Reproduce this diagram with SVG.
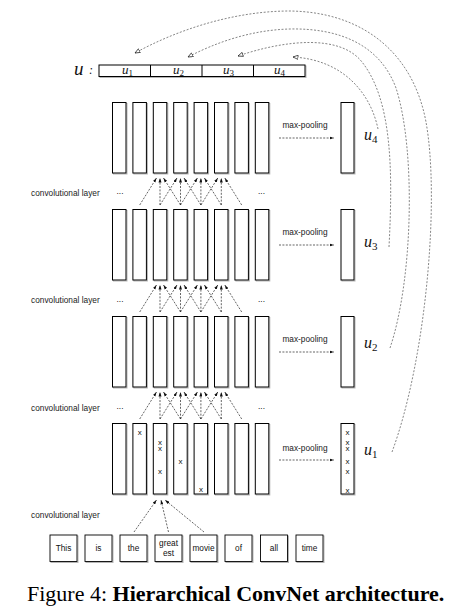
<svg xmlns="http://www.w3.org/2000/svg" width="460" height="613" viewBox="0 0 460 613">
<style>
.lbl{font-family:"Liberation Sans",Arial,sans-serif;font-size:8.3px;fill:#222}
.w{font-family:"Liberation Sans",Arial,sans-serif;font-size:8.3px;fill:#111;text-anchor:middle}
.x{font-family:"Liberation Sans",Arial,sans-serif;font-size:8px;fill:#111;text-anchor:middle}
.m{font-family:"Liberation Serif","Times New Roman",serif;font-style:italic;fill:#111}
.d{fill:none;stroke:#222;stroke-width:0.7;stroke-dasharray:2 1.4}
.c{fill:none;stroke:#333;stroke-width:0.6;stroke-dasharray:2 1.6}
.cap{font-family:"Liberation Serif","Times New Roman",serif;font-size:22px;fill:#000}
</style>
<defs>
<g id="col"><rect x="1" y="1" width="13.5" height="70.5" fill="none" stroke="#b5b5b5" stroke-width="1"/><rect x="0" y="0" width="13.5" height="70.5" fill="#fff" stroke="#000" stroke-width="1"/></g>
<g id="pcol"><rect x="1" y="1" width="13" height="70.5" fill="none" stroke="#b5b5b5" stroke-width="1"/><rect x="0" y="0" width="13" height="70.5" fill="#fff" stroke="#000" stroke-width="1"/></g>
<g id="wbox"><rect x="1" y="1" width="27" height="26.5" fill="none" stroke="#b5b5b5" stroke-width="1"/><rect x="0" y="0" width="27" height="26.5" fill="#fff" stroke="#000" stroke-width="0.9"/></g>
<marker id="ah" viewBox="0 0 6 4" refX="6" refY="2" markerWidth="4.5" markerHeight="3.2" markerUnits="userSpaceOnUse" orient="auto"><path d="M0,0 L6,2 L0,4 z" fill="#111"/></marker>
<marker id="oh" viewBox="0 0 7 6" refX="6.5" refY="3" markerWidth="6" markerHeight="5" markerUnits="userSpaceOnUse" orient="auto"><path d="M0.5,0.5 L6.5,3 L0.5,5.5 z" fill="#fff" stroke="#111" stroke-width="0.8"/></marker>
</defs>
<rect width="460" height="613" fill="#fff"/>

<!-- top vector u -->
<g id="uvec">
<text class="m" x="74" y="75" font-size="19">u</text>
<text class="m" x="89" y="74" font-size="12" font-style="normal">:</text>
<rect x="100" y="66" width="206" height="11.5" fill="none" stroke="#b5b5b5"/>
<rect x="99" y="65" width="206" height="11.5" fill="#fff" stroke="#000"/>
<line x1="150.5" y1="65" x2="150.5" y2="76.5" stroke="#000"/>
<line x1="202" y1="65" x2="202" y2="76.5" stroke="#000"/>
<line x1="253.5" y1="65" x2="253.5" y2="76.5" stroke="#000"/>
<text class="m" x="122" y="74" font-size="13">u<tspan font-size="9" font-style="normal" dy="2">1</tspan></text>
<text class="m" x="173" y="74" font-size="13">u<tspan font-size="9" font-style="normal" dy="2">2</tspan></text>
<text class="m" x="223" y="74" font-size="13">u<tspan font-size="9" font-style="normal" dy="2">3</tspan></text>
<text class="m" x="274" y="74" font-size="13">u<tspan font-size="9" font-style="normal" dy="2">4</tspan></text>
</g>

<!-- layer 1 (top) -->
<g id="L1c0"><use href="#col" x="112.5" y="102.5"/></g>
<g id="L1c1"><use href="#col" x="132.9" y="102.5"/></g>
<g id="L1c2"><use href="#col" x="153.3" y="102.5"/></g>
<g id="L1c3"><use href="#col" x="173.7" y="102.5"/></g>
<g id="L1c4"><use href="#col" x="194.1" y="102.5"/></g>
<g id="L1c5"><use href="#col" x="214.5" y="102.5"/></g>
<g id="L1c6"><use href="#col" x="234.9" y="102.5"/></g>
<g id="L1c7"><use href="#col" x="255.3" y="102.5"/></g>
<g id="P1"><use href="#pcol" x="341" y="102.5"/><text class="m" x="364" y="140" font-size="16">u<tspan font-size="11" font-style="normal" dy="3">4</tspan></text></g>

<!-- layer 2 -->
<g id="L2c0"><use href="#col" x="112.5" y="209.5"/></g>
<g id="L2c1"><use href="#col" x="132.9" y="209.5"/></g>
<g id="L2c2"><use href="#col" x="153.3" y="209.5"/></g>
<g id="L2c3"><use href="#col" x="173.7" y="209.5"/></g>
<g id="L2c4"><use href="#col" x="194.1" y="209.5"/></g>
<g id="L2c5"><use href="#col" x="214.5" y="209.5"/></g>
<g id="L2c6"><use href="#col" x="234.9" y="209.5"/></g>
<g id="L2c7"><use href="#col" x="255.3" y="209.5"/></g>
<g id="P2"><use href="#pcol" x="341" y="209.5"/><text class="m" x="364" y="247" font-size="16">u<tspan font-size="11" font-style="normal" dy="3">3</tspan></text></g>

<!-- layer 3 -->
<g id="L3c0"><use href="#col" x="112.5" y="316.5"/></g>
<g id="L3c1"><use href="#col" x="132.9" y="316.5"/></g>
<g id="L3c2"><use href="#col" x="153.3" y="316.5"/></g>
<g id="L3c3"><use href="#col" x="173.7" y="316.5"/></g>
<g id="L3c4"><use href="#col" x="194.1" y="316.5"/></g>
<g id="L3c5"><use href="#col" x="214.5" y="316.5"/></g>
<g id="L3c6"><use href="#col" x="234.9" y="316.5"/></g>
<g id="L3c7"><use href="#col" x="255.3" y="316.5"/></g>
<g id="P3"><use href="#pcol" x="341" y="316.5"/><text class="m" x="364" y="348" font-size="16">u<tspan font-size="11" font-style="normal" dy="3">2</tspan></text></g>

<!-- layer 4 (bottom) -->
<g id="L4c0"><use href="#col" x="112.5" y="423.5"/></g>
<g id="L4c1"><use href="#col" x="132.9" y="423.5"/><text class="x" x="139.7" y="434.5">x</text></g>
<g id="L4c2"><use href="#col" x="153.3" y="423.5"/><text class="x" x="160" y="444.5">x</text><text class="x" x="160" y="450.5">x</text><text class="x" x="160" y="474">x</text></g>
<g id="L4c3"><use href="#col" x="173.7" y="423.5"/><text class="x" x="180.5" y="463.5">x</text></g>
<g id="L4c4"><use href="#col" x="194.1" y="423.5"/><text class="x" x="200.9" y="492">x</text></g>
<g id="L4c5"><use href="#col" x="214.5" y="423.5"/></g>
<g id="L4c6"><use href="#col" x="234.9" y="423.5"/></g>
<g id="L4c7"><use href="#col" x="255.3" y="423.5"/></g>
<g id="P4"><use href="#pcol" x="341" y="423.5"/>
<text class="x" x="347.5" y="434.5">x</text><text class="x" x="347.5" y="444.5">x</text><text class="x" x="347.5" y="451">x</text><text class="x" x="347.5" y="463.5">x</text><text class="x" x="347.5" y="473.5">x</text><text class="x" x="347.5" y="492.5">x</text>
<text class="m" x="364" y="455" font-size="16">u<tspan font-size="11" font-style="normal" dy="3">1</tspan></text></g>

<!-- words -->
<g id="w0"><use href="#wbox" x="50" y="535"/><text class="w" x="63.5" y="551">This</text></g>
<g id="w1"><use href="#wbox" x="85" y="535"/><text class="w" x="98.5" y="551">is</text></g>
<g id="w2"><use href="#wbox" x="120" y="535"/><text class="w" x="133.5" y="551">the</text></g>
<g id="w3"><use href="#wbox" x="155" y="535"/><text class="w" x="168.5" y="545.5">great</text><text class="w" x="168.5" y="556">est</text></g>
<g id="w4"><use href="#wbox" x="190" y="535"/><text class="w" x="203.5" y="551">movie</text></g>
<g id="w5"><use href="#wbox" x="225" y="535"/><text class="w" x="238.5" y="551">of</text></g>
<g id="w6"><use href="#wbox" x="260.5" y="535"/><text class="w" x="274" y="551">all</text></g>
<g id="w7"><use href="#wbox" x="296" y="535"/><text class="w" x="309.5" y="551">time</text></g>

<!-- labels -->
<g id="labels">
<text class="lbl" x="31" y="195.5">convolutional layer</text>
<text class="lbl" x="31" y="303">convolutional layer</text>
<text class="lbl" x="31" y="410.5">convolutional layer</text>
<text class="lbl" x="31" y="518">convolutional layer</text>
<text class="lbl" x="120" y="194" text-anchor="middle">...</text>
<text class="lbl" x="261.5" y="194" text-anchor="middle">...</text>
<text class="lbl" x="120" y="302" text-anchor="middle">...</text>
<text class="lbl" x="261.5" y="302" text-anchor="middle">...</text>
<text class="lbl" x="120" y="408.5" text-anchor="middle">...</text>
<text class="lbl" x="261.5" y="408.5" text-anchor="middle">...</text>
<text class="lbl" x="305" y="128" text-anchor="middle">max-pooling</text>
<text class="lbl" x="305" y="235" text-anchor="middle">max-pooling</text>
<text class="lbl" x="305" y="342" text-anchor="middle">max-pooling</text>
<text class="lbl" x="305" y="451" text-anchor="middle">max-pooling</text>
</g>

<g id="connectors">
<!-- gap 1 -->
<g class="d" marker-end="url(#ah)">
<path d="M139.7,205 L156.5,178"/><path d="M160,205 L160,178"/><path d="M180.5,205 L163.5,178"/>
<path d="M160,205 L177,178"/><path d="M180.5,205 L180.5,178"/><path d="M200.9,205 L184,178"/>
<path d="M180.5,205 L197.4,178"/><path d="M200.9,205 L200.9,178"/><path d="M221.3,205 L204.4,178"/>
<path d="M200.9,205 L217.8,178"/><path d="M221.3,205 L221.3,178"/><path d="M241.7,205 L224.8,178"/>
<!-- gap 2 -->
<path d="M139.7,312 L156.5,285"/><path d="M160,312 L160,285"/><path d="M180.5,312 L163.5,285"/>
<path d="M160,312 L177,285"/><path d="M180.5,312 L180.5,285"/><path d="M200.9,312 L184,285"/>
<path d="M180.5,312 L197.4,285"/><path d="M200.9,312 L200.9,285"/><path d="M221.3,312 L204.4,285"/>
<path d="M200.9,312 L217.8,285"/><path d="M221.3,312 L221.3,285"/><path d="M241.7,312 L224.8,285"/>
<!-- gap 3 -->
<path d="M139.7,419 L156.5,392"/><path d="M160,419 L160,392"/><path d="M180.5,419 L163.5,392"/>
<path d="M160,419 L177,392"/><path d="M180.5,419 L180.5,392"/><path d="M200.9,419 L184,392"/>
<path d="M180.5,419 L197.4,392"/><path d="M200.9,419 L200.9,392"/><path d="M221.3,419 L204.4,392"/>
<path d="M200.9,419 L217.8,392"/><path d="M221.3,419 L221.3,392"/><path d="M241.7,419 L224.8,392"/>
<!-- words to bottom layer -->
<path d="M134,532 L156.5,500"/><path d="M168.5,532 L161,500"/><path d="M204,532 L165,500"/>
<!-- max-pooling -->
<path d="M279,138 L334,138"/><path d="M279,245 L334,245"/><path d="M279,352 L334,352"/><path d="M279,460 L334,460"/>
</g>
<!-- long curves -->
<g class="c" marker-end="url(#oh)">
<path d="M378,129 C371,95 345,60 293,57"/>
<path d="M389,247 C393,170 392,100 362,62 C340,34 285,40 238,56"/>
<path d="M390,348 C413,280 416,150 396,88 C380,45 340,28 290,29 C250,30 215,43 188,57"/>
<path d="M392,452 C426,360 440,200 426,122 C413,52 362,12 290,11 C232,11 175,31 135,53"/>
</g>
</g>

<text class="cap" x="27" y="601">Figure 4: <tspan font-weight="bold">Hierarchical ConvNet architecture.</tspan></text>
</svg>
